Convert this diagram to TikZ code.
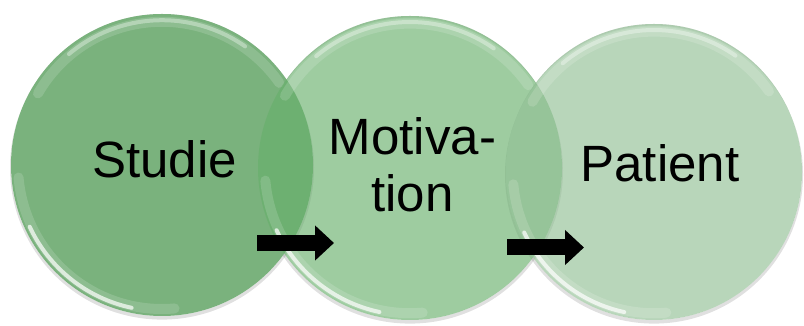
\documentclass[tikz,border=0pt]{standalone}
\usepackage{fontspec}
\setmainfont{Liberation Sans}
\usetikzlibrary{arrows.meta, calc}
\definecolor{bubbleone}{RGB}{122,178,125}
\definecolor{bubbletwo}{RGB}{103,175,107}
\definecolor{bubblethree}{RGB}{146,192,149}

\begin{document}
\begin{tikzpicture}[
  bubble/.style={circle, inner sep=0pt, outer sep=0pt},
  rim/.style={white, line width=1mm, line cap=round},
  softrim/.style={white, line width=2.5mm, line cap=round, opacity=0.15},
  caption/.style={font=\fontsize{36.3}{41}\selectfont, inner sep=0pt, align=center},
  flow/.style={line width=4mm, -{Triangle[length=4.75mm, width=8.5mm]}}
]
  \useasboundingbox (0,0) rectangle (20.1,8.15);

  % Shadows under the circles
  \fill[black, opacity=0.12, even odd rule] (4.05,3.96) circle (3.8) (4.05,4.025) circle (3.775);
  \fill[black, opacity=0.12, even odd rule] (10.25,3.885) circle (3.825) (10.25,3.95) circle (3.8);
  \fill[black, opacity=0.12, even odd rule] (16.35,3.785) circle (3.725) (16.35,3.85) circle (3.7);

  % Studie circle
  \node[bubble, minimum size=7.55cm, fill=bubbleone] (studie) at (4.05,4.025) {};
  \draw[softrim] ($(studie.center)+(150:3.58)$) arc[start angle=150, end angle=35, radius=3.58];
  \draw[rim, opacity=0.35] ($(studie.center)+(130:3.62)$) arc[start angle=130, end angle=55, radius=3.62];
  \draw[softrim] ($(studie.center)+(185:3.6)$) arc[start angle=185, end angle=275, radius=3.6];
  \draw[rim, opacity=0.7] ($(studie.center)+(205:3.65)$) arc[start angle=205, end angle=258, radius=3.65];

  % Motivation circle
  \node[bubble, minimum size=7.6cm, fill=bubbletwo, fill opacity=0.64] (motivation) at (10.25,3.95) {};
  \draw[softrim] ($(motivation.center)+(150:3.61)$) arc[start angle=150, end angle=35, radius=3.61];
  \draw[rim, opacity=0.35] ($(motivation.center)+(130:3.65)$) arc[start angle=130, end angle=55, radius=3.65];
  \draw[softrim] ($(motivation.center)+(185:3.63)$) arc[start angle=185, end angle=275, radius=3.63];
  \draw[rim, opacity=0.7] ($(motivation.center)+(205:3.68)$) arc[start angle=205, end angle=258, radius=3.68];

  % Patient circle
  \node[bubble, minimum size=7.4cm, fill=bubblethree, fill opacity=0.65] (patient) at (16.35,3.85) {};
  \draw[softrim] ($(patient.center)+(150:3.51)$) arc[start angle=150, end angle=35, radius=3.51];
  \draw[rim, opacity=0.35] ($(patient.center)+(130:3.55)$) arc[start angle=130, end angle=55, radius=3.55];
  \draw[softrim] ($(patient.center)+(185:3.53)$) arc[start angle=185, end angle=275, radius=3.53];
  \draw[rim, opacity=0.7] ($(patient.center)+(205:3.58)$) arc[start angle=205, end angle=258, radius=3.58];

  % Labels
  \node[caption, anchor=base] (studietext) at (4.11,3.7) {Studie};
  \node[caption, anchor=base] (motivtext) at (10.31,2.85) {Motiva-\\tion};
  \node[caption, anchor=base] (patienttext) at (16.5,3.6) {Patient};

  % Arrows
  \coordinate (flowonestart) at (6.425,2.075);
  \coordinate (flowoneend) at (8.35,2.075);
  \coordinate (flowtwostart) at (12.675,1.9625);
  \coordinate (flowtwoend) at (14.6,1.9625);
  \draw[flow] (flowonestart) -- (flowoneend);
  \draw[flow] (flowtwostart) -- (flowtwoend);
\end{tikzpicture}
\end{document}
